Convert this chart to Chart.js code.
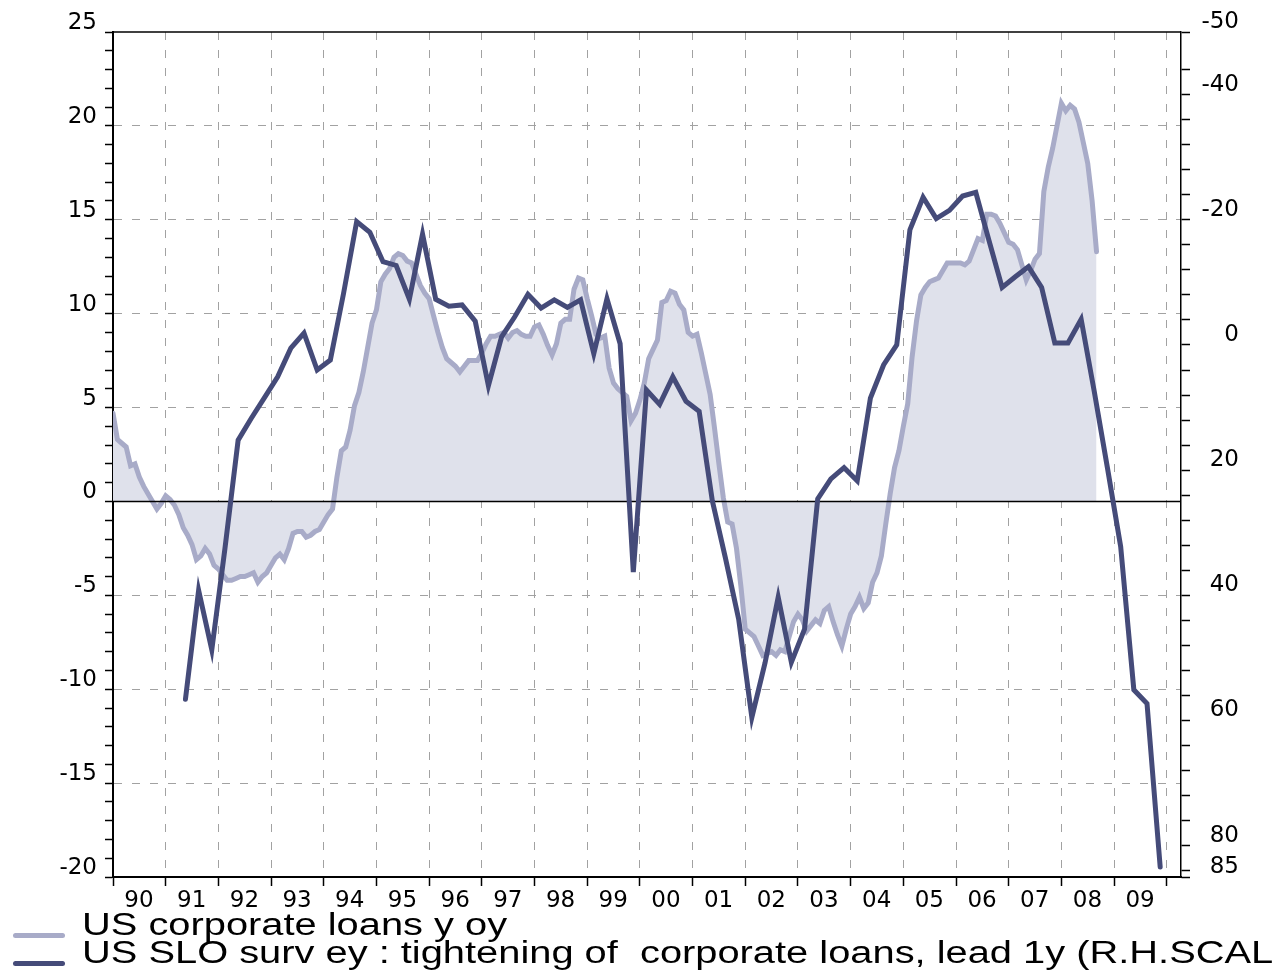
<!DOCTYPE html>
<html>
<head>
<meta charset="utf-8">
<script src="https://cdn.jsdelivr.net/npm/chart.js@4.4.1/dist/chart.umd.min.js"></script>
<style>
html, body { margin: 0; padding: 0; background: #fff; overflow: hidden; }
body { width: 1274px; height: 970px; position: relative; }
#wrap { position: absolute; left: 0; top: 0; width: 1274px; height: 920px; }
.key { position: absolute; left: 13px; width: 52px; height: 5px; border-radius: 3px; }
.txt { position: absolute; left: 82px; font-family: "Liberation Sans", Arial, sans-serif; font-size: 31px; line-height: 31px;
       white-space: pre; color: #000; transform: scaleX(1.285); transform-origin: 0 0; }
</style>
</head>
<body>
<div id="wrap"><canvas id="loanChart"></canvas></div>
<div class="key" id="key0" style="top:933px"></div>
<div class="txt" id="txt0" style="top:909px"></div>
<div class="key" id="key1" style="top:961px"></div>
<div class="txt" id="txt1" style="top:937px"></div>
<script>
// US corporate loans, % y/y, monthly from Jan 1990 (left scale)
const loanStart = 1990;
const loansYoy = [
    4.7, 3.3, 3.1, 2.9, 1.9, 2.0, 1.3, 0.8, 0.4, 0.0, -0.4, -0.1,
    0.3, 0.1, -0.2, -0.7, -1.4, -1.8, -2.3, -3.1, -2.9, -2.5, -2.8, -3.4,
    -3.6, -3.9, -4.2, -4.2, -4.1, -4.0, -4.0, -3.9, -3.8, -4.3, -4.0, -3.8,
    -3.4, -3.0, -2.8, -3.1, -2.5, -1.7, -1.6, -1.6, -1.9, -1.8, -1.6, -1.5,
    -1.1, -0.7, -0.4, 1.3, 2.7, 2.9, 3.8, 5.1, 5.8, 6.9, 8.2, 9.5,
    10.2, 11.7, 12.1, 12.4, 13.0, 13.2, 13.1, 12.8, 12.7, 12.1, 11.5, 11.1,
    10.8, 9.9, 9.0, 8.2, 7.6, 7.4, 7.2, 6.9, 7.2, 7.5, 7.5, 7.5,
    7.9, 8.4, 8.8, 8.8, 8.9, 9.0, 8.7, 9.0, 9.1, 8.9, 8.8, 8.8,
    9.3, 9.4, 8.9, 8.3, 7.8, 8.4, 9.5, 9.7, 9.7, 11.3, 11.9, 11.8,
    10.8, 9.9, 8.9, 8.7, 8.8, 7.1, 6.3, 6.0, 5.8, 5.6, 4.3, 4.7,
    5.4, 6.3, 7.6, 8.1, 8.6, 10.6, 10.7, 11.2, 11.1, 10.5, 10.2, 9.0,
    8.8, 8.9, 7.9, 6.8, 5.7, 3.9, 2.0, 0.2, -1.1, -1.2, -2.5, -4.5,
    -6.8, -7.0, -7.2, -7.7, -8.2, -8.1, -8.0, -8.2, -7.9, -8.0, -7.2, -6.4,
    -6.0, -6.3, -6.9, -6.6, -6.3, -6.5, -5.8, -5.6, -6.4, -7.1, -7.7, -6.8,
    -6.0, -5.6, -5.1, -5.7, -5.4, -4.3, -3.8, -2.9, -1.2, 0.4, 1.8, 2.7,
    4.0, 5.2, 7.7, 9.6, 11.0, 11.4, 11.7, 11.8, 11.9, 12.3, 12.7, 12.7,
    12.7, 12.7, 12.6, 12.8, 13.4, 14.0, 13.9, 15.3, 15.3, 15.2, 14.8, 14.3,
    13.8, 13.7, 13.4, 12.6, 11.8, 12.3, 12.9, 13.2, 16.5, 17.8, 18.8, 20.0,
    21.2, 20.8, 21.1, 20.9, 20.2, 19.1, 18.0, 16.0, 13.3
];

// SLO survey, net % tightening, quarterly, shifted 1y forward (right scale, inverted)
const sloStart = 1991.375;
const sloTightening = [
    56.6, 39.2, 48.7, 32.5, 15.2, 11.7, 8.4, 5.1,
    0.5, -1.9, 4.0, 2.4, -8.2, -19.7, -18.0, -13.3,
    -12.7, -7.3, -17.7, -7.3, -6.2, -6.4, -3.8, 6.5,
    -1.3, -4.5, -8.1, -5.9, -7.2, -6.0, -7.2, 1.4,
    -7.4, -0.2, 36.3, 7.2, 9.5, 5.1, 9.0, 10.6,
    24.9, 34.1, 43.8, 59.5, 50.8, 40.3, 50.7, 45.4,
    24.6, 21.4, 19.6, 21.7, 8.5, 3.2, 0.0, -18.4,
    -23.6, -20.2, -21.5, -23.8, -24.4, -16.7, -9.2, -10.9,
    -12.5, -9.2, -0.3, -0.3, -4.1, 7.5, 19.7, 32.2,
    55.1, 57.3, 83.4
];

const yearLabels = ["90", "91", "92", "93", "94", "95", "96", "97", "98", "99",
                    "00", "01", "02", "03", "04", "05", "06", "07", "08", "09"];
const leftLabels = [-20, -15, -10, -5, 0, 5, 10, 15, 20, 25];
const rightLabels = [-50, -40, -20, 0, 20, 40, 60, 80, 85];
const legendNames = ["US corporate loans y oy",
                     "US SLO surv ey : tightening of  corporate loans, lead 1y (R.H.SCALE)"];

const light = "#a8abc8";
const lightFill = "#dfe1eb";
const dark = "#454b79";
const gridGrey = "#a2a2a2";

const years = [];
for (let y = 1990; y <= 2010; y++) years.push(y);
const leftTicks = [];
for (let v = -20; v <= 25; v++) leftTicks.push(v);
const rightTicks = [-50];
for (let v = -44; v <= 84; v += 4) rightTicks.push(v);
rightTicks.push(85);

document.getElementById("key0").style.background = light;
document.getElementById("key1").style.background = dark;
document.getElementById("txt0").textContent = legendNames[0];
document.getElementById("txt1").textContent = legendNames[1];

Chart.defaults.font.family = "DejaVu Sans";
Chart.defaults.font.size = 23;
Chart.defaults.color = "#000";

const frameLines = {
    id: "frameLines",
    afterDatasetDraw(chart, args) {
        if (args.index !== 1) return;
        const a = chart.chartArea;
        const y0 = chart.scales.y.getPixelForValue(0);
        const ctx = chart.ctx;
        ctx.save();
        ctx.strokeStyle = "#000";
        ctx.lineWidth = 1.5;
        ctx.beginPath();
        ctx.moveTo(a.left, y0);
        ctx.lineTo(a.right, y0);
        ctx.stroke();
        ctx.restore();
    },
    afterDraw(chart) {
        const a = chart.chartArea;
        const ctx = chart.ctx;
        ctx.save();
        ctx.strokeStyle = "#000";
        ctx.lineWidth = 1.5;
        ctx.beginPath();
        ctx.moveTo(a.left, a.top);
        ctx.lineTo(a.right, a.top);
        ctx.stroke();
        ctx.restore();
    }
};

new Chart(document.getElementById("loanChart"), {
    type: "line",
    data: {
        datasets: [{
            label: legendNames[1],
            data: sloTightening.map((v, i) => ({ x: sloStart + i * 0.25, y: v })),
            yAxisID: "y2",
            borderColor: dark,
            borderWidth: 5,
            borderCapStyle: "round",
            pointRadius: 0,
            fill: false,
            tension: 0
        }, {
            label: legendNames[0],
            data: loansYoy.map((v, i) => ({ x: loanStart + i / 12, y: v })),
            yAxisID: "y",
            borderColor: light,
            backgroundColor: lightFill,
            borderWidth: 5,
            borderCapStyle: "round",
            pointRadius: 0,
            fill: "origin",
            tension: 0
        }]
    },
    options: {
        responsive: true,
        maintainAspectRatio: false,
        animation: false,
        devicePixelRatio: 1,
        layout: { padding: { left: 0, right: 35, top: 32, bottom: 0 } },
        plugins: {
            legend: { display: false },
            tooltip: { enabled: false }
        },
        scales: {
            x: {
                type: "linear",
                min: 1990,
                max: 2010.27,
                afterBuildTicks: s => { s.ticks = years.map(v => ({ value: v })); },
                afterFit: s => { s.height = 43; },
                grid: {
                    color: c => (c.tick && c.tick.value > 1990) ? gridGrey : "transparent",
                    tickColor: "#000",
                    tickLength: 9,
                    tickWidth: 1.5
                },
                border: { color: "#000", width: 2, dash: [8, 10] },
                ticks: {
                    autoSkip: false,
                    maxRotation: 0,
                    padding: 1,
                    labelOffset: 26,
                    callback: (v, i) => yearLabels[i] || ""
                }
            },
            y: {
                position: "left",
                min: -20,
                max: 25,
                afterBuildTicks: s => { s.ticks = leftTicks.map(v => ({ value: v })); },
                afterFit: s => { s.width = 113; },
                grid: {
                    color: c => (c.tick && c.tick.value % 5 === 0 && c.tick.value > -20 &&
                                 c.tick.value < 25 && c.tick.value !== 0) ? gridGrey : "transparent",
                    tickColor: "#000",
                    tickLength: 8,
                    tickWidth: 1.5
                },
                border: { color: "#000", width: 2, dash: [8, 10] },
                ticks: {
                    autoSkip: false,
                    padding: 8,
                    labelOffset: -9,
                    callback: v => leftLabels.includes(v) ? String(v) : ""
                }
            },
            y2: {
                position: "right",
                reverse: true,
                min: -50,
                max: 85,
                afterBuildTicks: s => { s.ticks = rightTicks.map(v => ({ value: v })); },
                afterFit: s => { s.width = 58; },
                grid: {
                    drawOnChartArea: false,
                    tickColor: "#000",
                    tickLength: 9,
                    tickWidth: 1.5
                },
                border: { color: "#000", width: 1.5 },
                ticks: {
                    autoSkip: false,
                    crossAlign: "far",
                    padding: 4,
                    labelOffset: -10,
                    callback: v => rightLabels.includes(v) ? String(v) : ""
                }
            }
        }
    },
    plugins: [frameLines]
});
</script>
</body>
</html>
